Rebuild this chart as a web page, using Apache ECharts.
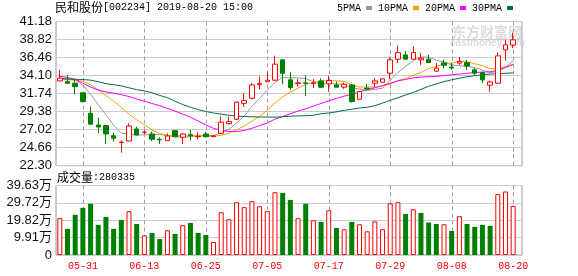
<!DOCTYPE html>
<html><head><meta charset="utf-8">
<script src="https://cdn.jsdelivr.net/npm/echarts@6/dist/echarts.min.js"></script>
<style>html,body{margin:0;padding:0;background:#fff}#c{width:578px;height:276px}</style>
</head><body><div id="c"></div>
<script>
const dates = ['05-28','05-29','05-30','05-31','06-03','06-04','06-05','06-06','06-10','06-11',
'06-12','06-13','06-14','06-17','06-18','06-19','06-20','06-21','06-24','06-25',
'06-26','06-27','06-28','07-01','07-02','07-03','07-04','07-05','07-08','07-09',
'07-10','07-11','07-12','07-15','07-16','07-17','07-18','07-19','07-22','07-23',
'07-24','07-25','07-26','07-29','07-30','07-31','08-01','08-02','08-05','08-06',
'08-07','08-08','08-09','08-12','08-13','08-14','08-15','08-16','08-19','08-20'];
const openP = [33.40,33.30,33.10,31.85,29.17,27.63,27.55,26.23,25.34,25.54,
27.11,26.66,26.45,25.75,25.58,26.89,26.02,26.37,26.10,26.45,
26.12,26.55,27.80,28.38,30.47,31.13,32.90,33.30,33.50,36.16,
33.54,33.05,33.15,33.05,33.40,33.01,32.88,32.58,32.88,31.00,
32.45,33.10,33.23,34.41,36.25,36.81,36.25,36.16,36.25,34.68,
35.75,35.20,35.73,35.81,34.85,34.49,32.84,33.10,37.47,38.10];
const closeP = [33.76,33.10,32.66,30.69,27.73,27.37,26.46,25.89,25.38,27.50,
26.32,26.70,25.77,25.68,26.19,26.10,26.45,26.22,26.15,26.10,
26.20,28.00,28.07,30.61,30.82,32.88,33.05,33.50,35.60,34.40,
32.53,33.15,33.08,33.15,32.58,33.45,32.58,32.97,30.69,32.00,
32.35,33.40,33.67,36.16,37.10,36.25,37.12,36.38,35.81,35.07,
35.45,35.10,35.94,35.37,34.41,33.54,33.27,36.68,38.12,38.78];
const lowP = [33.35,33.00,31.66,30.60,27.70,26.55,25.14,25.45,24.00,25.50,
26.30,26.42,25.54,25.15,25.58,26.02,25.14,25.58,25.76,26.02,
26.02,26.50,27.70,28.30,30.04,31.00,32.30,33.30,33.40,32.97,
32.23,32.66,31.40,32.45,32.45,32.00,32.58,32.36,30.56,30.95,
32.23,32.58,33.20,33.63,35.73,36.20,36.16,35.50,35.73,34.60,
35.07,34.85,35.50,34.85,34.19,33.10,32.00,33.10,36.07,37.69];
const highP = [34.85,34.15,33.67,31.90,30.04,28.60,27.60,26.63,25.60,27.85,
27.41,26.94,26.76,26.02,26.54,26.98,26.54,27.02,26.67,26.72,
26.30,28.72,28.72,30.70,31.78,33.10,33.97,34.50,36.70,36.20,
34.54,33.63,34.10,33.63,33.76,34.06,33.32,33.18,33.01,32.10,
33.01,33.76,33.76,36.51,38.03,37.34,37.90,37.04,36.81,35.73,
36.20,35.73,36.51,36.16,35.07,34.62,33.45,37.12,38.78,39.70];
const ma5 = [33.70,33.65,33.55,32.80,31.65,30.30,28.95,27.60,26.55,26.45,
26.30,26.35,26.35,26.40,26.20,26.10,26.05,26.10,26.20,26.20,
26.25,26.60,27.05,27.90,28.80,30.10,31.10,32.20,33.20,33.85,
33.80,33.80,33.70,33.30,32.95,33.10,33.00,32.95,32.50,32.35,
32.15,32.30,32.45,33.50,34.50,35.30,36.05,36.55,36.50,36.10,
35.90,35.50,35.40,35.30,35.15,34.80,34.50,34.65,35.20,36.05];
const ma10 = [33.60,33.55,33.50,33.35,32.90,32.20,31.50,30.75,29.95,29.05,
28.30,27.65,27.00,26.50,26.30,26.20,26.20,26.20,26.30,26.20,
26.15,26.30,26.55,27.00,27.50,28.15,28.80,29.55,30.50,31.30,
31.95,32.45,32.95,33.20,33.35,33.45,33.40,33.35,32.85,32.60,
32.60,32.60,32.70,33.00,33.45,33.70,34.15,34.50,35.00,35.30,
35.60,35.75,36.00,35.90,35.65,35.40,35.00,35.00,35.25,35.60];
const ma20 = [34.00,33.85,33.60,33.10,32.60,32.20,31.95,31.80,31.60,31.35,
31.05,30.75,30.45,30.15,29.80,29.45,29.05,28.65,28.15,27.65,
27.20,26.95,26.78,26.78,26.92,27.20,27.55,27.90,28.40,28.75,
29.10,29.45,29.75,30.10,30.45,30.80,31.10,31.40,31.65,31.95,
32.25,32.50,32.80,33.10,33.40,33.60,33.80,33.90,33.95,34.00,
34.10,34.20,34.30,34.40,34.50,34.55,34.60,34.80,35.15,35.55];
const ma30 = [33.70,33.65,33.62,33.58,33.50,33.30,33.05,32.90,32.75,32.50,
32.25,32.10,31.85,31.50,31.20,30.75,30.30,29.95,29.65,29.40,
29.20,29.05,28.90,28.80,28.74,28.70,28.68,28.66,28.66,28.70,
28.78,28.82,28.85,28.90,29.10,29.20,29.35,29.55,29.70,29.85,
29.95,30.15,30.50,30.85,31.20,31.55,31.90,32.30,32.70,33.00,
33.30,33.55,33.75,33.95,34.10,34.20,34.30,34.35,34.40,34.45];
const volume = [21.0,14.9,22.9,26.9,29.2,17.2,21.7,14.9,20.0,25.0,
17.7,11.2,12.6,9.1,14.1,12.0,17.0,18.3,12.6,11.4,
7.4,24.4,20.4,30.1,27.3,30.7,27.8,25.0,35.8,35.4,
31.4,21.0,29.2,19.8,18.9,25.5,15.4,14.7,18.9,17.5,
13.5,19.2,14.7,29.5,30.1,23.4,26.1,24.0,18.5,17.7,
17.5,13.7,22.1,17.7,16.0,17.2,16.6,34.7,36.2,28.0335];
const volUp = [1,0,0,0,0,0,0,0,0,1, 0,1,0,0,1,0,1,0,0,0,
1,1,1,1,1,1,1,1,1,0, 0,1,0,1,0,1,0,1,0,1,
1,1,1,1,1,0,1,0,0,0, 1,0,1,0,0,0,0,1,1,1];
const priceTicks = [22.30,24.66,27.02,29.38,31.74,34.10,36.46,38.82,41.18];
const volTickLabels = ['0','9.91万','19.82万','29.72万','39.63万'];
const volMax = 39.63;
const maNames = ['5PMA','10PMA','20PMA','30PMA'];
const maData = [ma5, ma10, ma20, ma30];
const maColors = ['#999999','#f5a000','#ff00ff','#006f3c'];
const titleStock = '民和股份';
const titleRest = '[002234] 2019-08-20 15:00';
const volTitle = '成交量';
const volTitleNum = ':280335';

const RED = '#ff0000', GREEN = '#008000';
const MONO = 'Liberation Mono';
const labelIdx = (i) => (i - 3) % 8 === 0;
const labelDates = dates.filter((d, i) => labelIdx(i));

const chart = echarts.init(document.getElementById('c'));
const vg = (xi, yi) => ({
  type: 'custom', xAxisIndex: xi, yAxisIndex: yi, z: 1, silent: true,
  data: labelDates.map((d) => [d]), encode: {x: 0},
  renderItem: (params, api) => {
    const x = Math.round(api.coord([api.value(0), 0])[0]) + 0.5;
    const cs = params.coordSys;
    return {type: 'line', shape: {x1: x, y1: cs.y, x2: x, y2: cs.y + cs.height},
      style: {stroke: '#a0a0a0', lineDash: [4, 3], lineWidth: 1}};
  }
});
const frameY = (gi, n, fmt) => ({
  type: 'value', gridIndex: gi, min: 0, max: n, interval: 1,
  axisLine: {show: false}, axisTick: {show: false},
  axisLabel: {formatter: fmt, color: '#111', fontFamily: 'Liberation Sans, Noto Sans CJK SC', fontSize: 13, margin: 4},
  splitLine: {show: true, lineStyle: {color: '#cccccc', width: 1}}
});
const richTitle = {
  a: {fontFamily: 'Noto Sans CJK SC', fontSize: 12, fontWeight: 'normal', color: '#000'},
  b: {fontFamily: MONO, fontSize: 10, fontWeight: 'normal', color: '#000'}
};
chart.setOption({
  animation: false,
  title: [
    {text: '{a|' + titleStock + '}{b|' + titleRest + '}', left: 55, top: 1, padding: 0,
     textStyle: {fontWeight: 'normal', rich: richTitle}},
    {text: '{a|' + volTitle + '}{b|' + volTitleNum + '}', left: 57, top: 171, padding: 0,
     textStyle: {fontWeight: 'normal', rich: richTitle}}
  ],
  legend: {
    data: maNames, left: 337, top: 3, align: 'right', icon: 'rect', itemWidth: 6, itemHeight: 4, itemGap: 6,
    selectedMode: false, padding: 0,
    textStyle: {fontFamily: MONO, fontSize: 10, color: '#000', padding: [0, 0, 0, -2]}
  },
  graphic: [
    {type: 'text', left: 452, top: 25, z: 0, style: {text: '东方财富网', font: 'bold 14px "Noto Sans CJK SC"', fill: '#dcdcdc'}},
    {type: 'text', left: 450, top: 38, z: 0, style: {text: 'eastmoney.com', font: 'bold 10px "Liberation Sans"', fill: '#dcdcdc'}}
  ],
  grid: [
    {left: 56, top: 21.5, width: 466, height: 144.2, show: true, borderColor: '#999', backgroundColor: 'rgba(0,0,0,0)'},
    {left: 56, top: 21.5, width: 461, height: 144.2},
    {left: 56, top: 185.5, width: 466, height: 69.5, show: true, borderColor: '#999', backgroundColor: 'rgba(0,0,0,0)'},
    {left: 56, top: 185.5, width: 461, height: 69.5}
  ],
  xAxis: [
    {type: 'value', gridIndex: 0, min: 0, max: 1, show: false},
    {type: 'category', gridIndex: 1, data: dates,
     axisLine: {show: false}, axisTick: {show: false}, axisLabel: {show: false}, splitLine: {show: false}},
    {type: 'value', gridIndex: 2, min: 0, max: 1, show: false},
    {type: 'category', gridIndex: 3, data: dates,
     axisLine: {show: false}, axisTick: {show: false},
     axisLabel: {interval: labelIdx, color: RED, fontFamily: MONO, fontSize: 10, margin: 6},
     splitLine: {show: false}}
  ],
  yAxis: [
    frameY(0, priceTicks.length - 1, (v) => priceTicks[v].toFixed(2)),
    {type: 'value', gridIndex: 1, min: priceTicks[0], max: priceTicks[priceTicks.length - 1], show: false},
    frameY(2, volTickLabels.length - 1, (v) => volTickLabels[v]),
    {type: 'value', gridIndex: 3, min: 0, max: volMax, show: false}
  ],
  series: [
    vg(1, 1),
    vg(3, 3),
    {type: 'candlestick', name: 'K', xAxisIndex: 1, yAxisIndex: 1, barWidth: 5, z: 4,
     data: dates.map((d, i) => [openP[i], closeP[i], lowP[i], highP[i]]),
     itemStyle: {color: '#ffffff', color0: GREEN, borderColor: RED, borderColor0: GREEN, borderWidth: 1}},
    ...maNames.map((n, k) => ({
      type: 'line', name: n, xAxisIndex: 1, yAxisIndex: 1, data: maData[k], showSymbol: false, symbol: 'none',
      color: maColors[k], lineStyle: {color: maColors[k], width: 1}, z: 3
    })),
    {type: 'bar', name: 'vol', xAxisIndex: 3, yAxisIndex: 3, barWidth: 5, z: 4,
     data: volume.map((v, i) => ({value: v, itemStyle: volUp[i] ? {color: '#ffffff', borderColor: RED, borderWidth: 1} : {color: GREEN}}))}
  ]
});
</script></body></html>
